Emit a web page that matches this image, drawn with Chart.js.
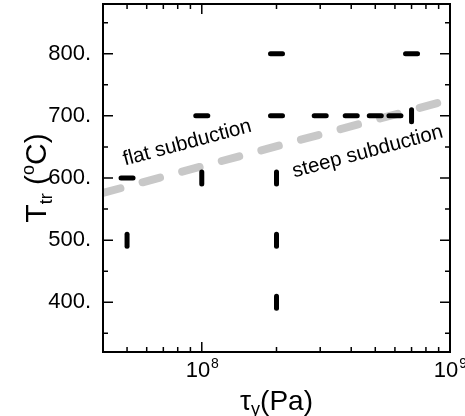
<!DOCTYPE html>
<html>
<head>
<meta charset="utf-8">
<script src="https://cdn.jsdelivr.net/npm/chart.js@4"></script>
<style>
  html, body { margin: 0; padding: 0; background: #fff; }
  #wrap { width: 465px; height: 416px; }
</style>
</head>
<body>
<div id="wrap"><canvas id="chart" width="465" height="416"></canvas></div>
<script>
// ===== DATA =====
// horizontal dash markers
const hDashTau = [5e7, 1e8, 2e8, 3e8, 4e8, 5e8, 6e8, 2e8, 7e8];
const hDashT   = [600, 700, 700, 700, 700, 700, 700, 800, 800];
// vertical dash markers
const vDashTau = [5e7, 1e8, 2e8, 2e8, 2e8, 7e8];
const vDashT   = [500, 600, 600, 500, 400, 700];
// flat / steep boundary
const boundaryTau = [4e7, 1e9];
const boundaryT   = [576, 726];

// axes
const xRange = [4e7, 1e9];
const yRange = [320, 880];
const xMajorTicks = [1e8, 1e9];
const xMinorTicks = [5e7, 6e7, 7e7, 8e7, 9e7, 2e8, 3e8, 4e8, 5e8, 6e8, 7e8, 8e8, 9e8];
const xTickLabels = [['10', '8'], ['10', '9']];
const yMajorTicks = [400, 500, 600, 700, 800];
const yMinorTicks = [350, 450, 550, 650, 750, 850];

const FONT = 'Arial, "Liberation Sans", sans-serif';

function toPoints(xs, ys) {
    return xs.map((x, i) => ({ x: x, y: ys[i] }));
}

/** Round caps for the dash markers */
const capPlugin = {
    id: 'caps',
    beforeDatasetsDraw(chart) { chart.ctx.lineCap = 'round'; },
    afterDatasetsDraw(chart) { chart.ctx.lineCap = 'butt'; }
};

/** Box frame with inward ticks on all four sides, x labels, axis titles, notes */
const framePlugin = {
    id: 'frame',
    afterDraw(chart) {
        const ctx = chart.ctx;
        const a = chart.chartArea;
        const xs = chart.scales.x, ys = chart.scales.y;
        ctx.save();
        ctx.strokeStyle = '#000';

        // ticks
        ctx.lineWidth = 1.5;
        ctx.beginPath();
        const xt = (v, len) => {
            const px = xs.getPixelForValue(v);
            ctx.moveTo(px, a.bottom); ctx.lineTo(px, a.bottom - len);
            ctx.moveTo(px, a.top); ctx.lineTo(px, a.top + len);
        };
        const yt = (v, len) => {
            const py = ys.getPixelForValue(v);
            ctx.moveTo(a.left, py); ctx.lineTo(a.left + len, py);
            ctx.moveTo(a.right, py); ctx.lineTo(a.right - len, py);
        };
        xMajorTicks.forEach(v => xt(v, 10));
        xMinorTicks.forEach(v => xt(v, 5));
        yMajorTicks.forEach(v => yt(v, 10));
        yMinorTicks.forEach(v => yt(v, 5));
        ctx.stroke();

        // frame
        ctx.lineWidth = 2;
        ctx.strokeRect(a.left, a.top, a.right - a.left, a.bottom - a.top);

        // x tick labels, 10 with superscript
        ctx.fillStyle = '#000';
        ctx.textBaseline = 'alphabetic';
        ctx.textAlign = 'left';
        xMajorTicks.forEach((v, i) => {
            const [base, exp] = xTickLabels[i];
            ctx.font = '22px ' + FONT;
            const wb = ctx.measureText(base).width;
            ctx.font = '14px ' + FONT;
            const we = ctx.measureText(exp).width;
            const px = xs.getPixelForValue(v) - (wb + we) / 2;
            const by = a.bottom + 25;
            ctx.font = '22px ' + FONT;
            ctx.fillText(base, px, by);
            ctx.font = '14px ' + FONT;
            ctx.fillText(exp, px + wb + 1, by - 9);
        });

        // x title: tau_y(Pa)
        drawRich(ctx, [
            { t: '\u03c4', size: 28, dy: 0 },
            { t: 'y', size: 18, dy: 5 },
            { t: '(Pa)', size: 28, dy: 0 }
        ], (a.left + a.right) / 2, 410, 0);

        // y title: T_tr (oC)
        drawRich(ctx, [
            { t: 'T', size: 30, dy: 0 },
            { t: 'tr', size: 18, dy: 6 },
            { t: ' (', size: 30, dy: 0 },
            { t: 'o', size: 18, dy: -12 },
            { t: 'C)', size: 30, dy: 0 }
        ], 46, 178, -Math.PI / 2);

        // region notes, parallel to the boundary
        const angle = Math.atan2(
            ys.getPixelForValue(boundaryT[1]) - ys.getPixelForValue(boundaryT[0]),
            xs.getPixelForValue(boundaryTau[1]) - xs.getPixelForValue(boundaryTau[0]));
        note(ctx, 'flat subduction', xs.getPixelForValue(4.9e7), ys.getPixelForValue(620), angle);
        note(ctx, 'steep subduction', xs.getPixelForValue(2.36e8), ys.getPixelForValue(601), angle);

        ctx.restore();
    }
};

function note(ctx, text, x, y, angle) {
    ctx.save();
    ctx.translate(x, y);
    ctx.rotate(angle);
    ctx.font = '20.5px ' + FONT;
    ctx.fillStyle = '#000';
    ctx.textAlign = 'left';
    ctx.textBaseline = 'alphabetic';
    ctx.fillText(text, 0, 0);
    ctx.restore();
}

/** Draw a run of text pieces with sub/superscripts, centred at (cx, cy) */
function drawRich(ctx, parts, cx, cy, rot) {
    ctx.save();
    ctx.translate(cx, cy);
    ctx.rotate(rot);
    ctx.fillStyle = '#000';
    ctx.textAlign = 'left';
    ctx.textBaseline = 'alphabetic';
    let total = 0;
    parts.forEach(p => {
        ctx.font = p.size + 'px ' + FONT;
        p.w = ctx.measureText(p.t).width;
        total += p.w;
    });
    let x = -total / 2;
    parts.forEach(p => {
        ctx.font = p.size + 'px ' + FONT;
        ctx.fillText(p.t, x, p.dy);
        x += p.w;
    });
    ctx.restore();
}

new Chart(document.getElementById('chart'), {
    type: 'scatter',
    data: {
        datasets: [
            {
                label: 'h',
                data: toPoints(hDashTau, hDashT),
                pointStyle: 'line', rotation: 0,
                radius: 6, hoverRadius: 6,
                borderColor: '#000', borderWidth: 5
            },
            {
                label: 'v',
                data: toPoints(vDashTau, vDashT),
                pointStyle: 'line', rotation: 90,
                radius: 6, hoverRadius: 6,
                borderColor: '#000', borderWidth: 5
            },
            {
                label: 'boundary',
                data: toPoints(boundaryTau, boundaryT),
                showLine: true,
                borderColor: '#c8c8c8', borderWidth: 8,
                borderDash: [18, 23], borderCapStyle: 'round',
                pointRadius: 0
            }
        ]
    },
    options: {
        responsive: false,
        animation: false,
        events: [],
        layout: { autoPadding: false, padding: { left: 0, top: 4, right: 15, bottom: 0 } },
        plugins: { legend: { display: false }, tooltip: { enabled: false } },
        scales: {
            x: {
                type: 'logarithmic',
                min: xRange[0], max: xRange[1],
                grid: { display: false, drawTicks: false },
                border: { display: false },
                ticks: { display: false },
                afterFit: (s) => { s.height = 64; s.paddingLeft = 0; s.paddingRight = 0; }
            },
            y: {
                min: yRange[0], max: yRange[1],
                grid: { display: false, drawTicks: false },
                border: { display: false },
                ticks: {
                    stepSize: 100, includeBounds: false, padding: 12,
                    color: '#000', font: { family: FONT, size: 22 },
                    callback: (v) => v + '.'
                },
                afterFit: (s) => { s.width = 103; s.paddingTop = 0; s.paddingBottom = 0; }
            }
        }
    },
    plugins: [capPlugin, framePlugin]
});
</script>
</body>
</html>
